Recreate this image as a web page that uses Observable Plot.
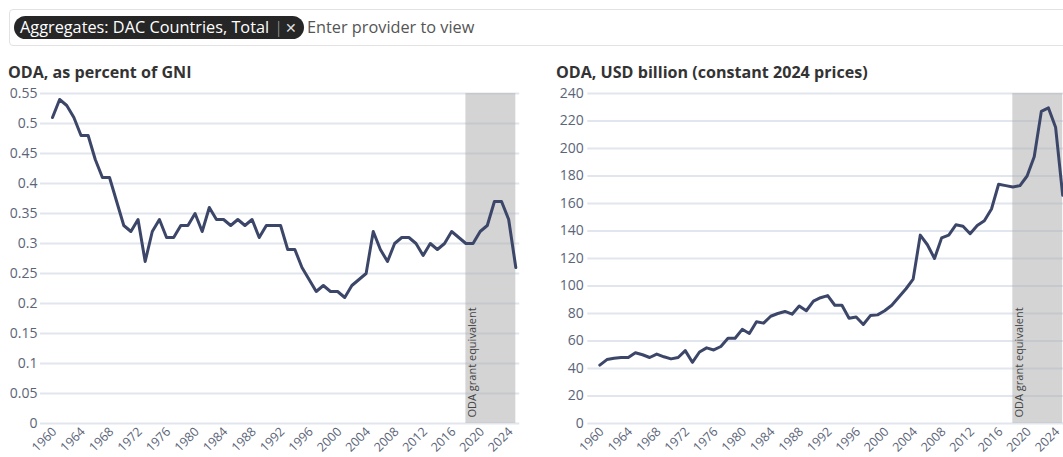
<!DOCTYPE html>
<html>
<head>
<meta charset="utf-8">
<script src="https://cdn.jsdelivr.net/npm/d3@7"></script>
<script src="https://cdn.jsdelivr.net/npm/@observablehq/plot@0.6"></script>
<style>
  html, body { margin: 0; padding: 0; background: #fff; overflow: hidden; width: 1063px; height: 457px; }
  body { font-family: "Open Sans", sans-serif; position: relative; }
  #search { position: absolute; left: 9px; top: 9px; width: 1080px; height: 35px; border: 1.5px solid #e2e2e2; border-radius: 4px; box-sizing: content-box; }
  #chip { position: absolute; left: 14px; top: 16px; height: 23px; line-height: 23px; background: #262626; color: #fff; border-radius: 12px; padding: 0 7px 0 6px; font-size: 16.3px; white-space: nowrap; }
  #chip .sep { color: #aaa; margin: 0 2px 0 5px; font-weight: 300; }
  #chip .x { color: #ddd; font-size: 14px; }
  #placeholder { position: absolute; left: 307px; top: 16px; line-height: 23px; font-size: 16.3px; color: #555; white-space: nowrap; }
  .title { position: absolute; top: 61px; font-size: 16.1px; font-weight: 700; color: #333; white-space: nowrap; }
  .chart { position: absolute; top: 85px; width: 540px; height: 372px; }
  .chart svg { max-width: none !important; }
</style>
</head>
<body>
<div id="search"></div>
<div id="chip">Aggregates: DAC Countries, Total<span class="sep">|</span><span class="x">✕</span></div>
<div id="placeholder">Enter provider to view</div>
<div class="title" style="left:8px">ODA, as percent of GNI</div>
<div class="title" style="left:556px">ODA, USD billion (constant 2024 prices)</div>
<div class="chart" id="left" style="left:0px"></div>
<div class="chart" id="right" style="left:540px"></div>
<script>
const years = [1960,1961,1962,1963,1964,1965,1966,1967,1968,1969,
  1970,1971,1972,1973,1974,1975,1976,1977,1978,1979,
  1980,1981,1982,1983,1984,1985,1986,1987,1988,1989,
  1990,1991,1992,1993,1994,1995,1996,1997,1998,1999,
  2000,2001,2002,2003,2004,2005,2006,2007,2008,2009,
  2010,2011,2012,2013,2014,2015,2016,2017,2018,2019,
  2020,2021,2022,2023,2024,2025];

const odaPctGni = [0.51,0.54,0.53,0.51,0.48,0.48,0.44,0.41,0.41,0.37,
  0.33,0.32,0.34,0.27,0.32,0.34,0.31,0.31,0.33,0.33,
  0.35,0.32,0.36,0.34,0.34,0.33,0.34,0.33,0.34,0.31,
  0.33,0.33,0.33,0.29,0.29,0.26,0.24,0.22,0.23,0.22,
  0.22,0.21,0.23,0.24,0.25,0.32,0.29,0.27,0.30,0.31,
  0.31,0.30,0.28,0.30,0.29,0.30,0.32,0.31,0.30,0.30,
  0.32,0.33,0.37,0.37,0.34,0.26];

const odaUsdBn = [42.5,46.5,47.5,48,48,51.5,50,48,50.5,48.5,
  47,48,53,44.5,52,55,53.5,56,62,62,
  68.5,65.5,74,73,78,80,81.5,79.5,85.5,82,
  89,91.5,93,86,86,76.5,77.5,72,78.5,79,
  82,86,92,98,105,137,130,120,135,137,
  144.5,143.5,138,144,147.5,156,174,173,172,173,
  180,194,227,229.5,215.5,166];

const xTicks = [1960,1964,1968,1972,1976,1980,1984,1988,1992,1996,2000,2004,2008,2012,2016,2020,2024];
const yTicksPct = [0,0.05,0.1,0.15,0.2,0.25,0.3,0.35,0.4,0.45,0.5,0.55];
const yTicksUsd = [0,20,40,60,80,100,120,140,160,180,200,220,240];
const grantPeriod = [{from: 2018, to: 2025}];
const grantLabel = "ODA grant equivalent";

const lineColor = "#3c4669";
const gridColor = "#e1e6ee";
const tickColor = "#5b6478";

function makeChart(values, yTicks, yMax, opts) {
  const data = years.map((y, i) => ({year: y, value: values[i]}));
  const band = grantPeriod.map(d => ({x1: d.from, x2: d.to, y1: 0, y2: yMax}));
  return Plot.plot({
    width: opts.width,
    height: 372,
    marginTop: 8,
    marginBottom: 34,
    marginLeft: opts.marginLeft,
    marginRight: opts.marginRight,
    x: {domain: [1960, 2025], label: null},
    y: {domain: [0, yMax], label: null},
    style: {fontFamily: "Open Sans, sans-serif", fontSize: "14px", color: tickColor, background: "transparent", overflow: "visible"},
    marks: [
      Plot.ruleY(yTicks, {stroke: gridColor, strokeWidth: 2, insetLeft: -12, insetRight: -4}),
      Plot.rect(band, {x1: "x1", x2: "x2", y1: "y1", y2: "y2", fill: "#a9a9a9", fillOpacity: 0.5}),
      Plot.text([grantLabel], {x: grantPeriod[0].from, y: 0, text: d => d, rotate: -90, textAnchor: "start", dx: 6.5, dy: -6, fontSize: 11, fill: "#444"}),
      Plot.line(data, {x: "year", y: "value", stroke: lineColor, strokeWidth: 3, strokeLinejoin: "round", strokeLinecap: "round"}),
      Plot.axisY({ticks: yTicks, tickSize: 0, tickPadding: opts.tickPadding, fontSize: 14, tickFormat: d => String(+d.toFixed(2)), label: null}),
      Plot.axisX({ticks: xTicks, tickSize: 0, tickPadding: 6, dx: 2, tickRotate: -45, fontSize: 12.5, tickFormat: d => String(d), label: null})
    ]
  });
}

document.getElementById("left").append(makeChart(odaPctGni, yTicksPct, 0.55, {width: 540, marginLeft: 52, marginRight: 24.7, tickPadding: 15}));
document.getElementById("right").append(makeChart(odaUsdBn, yTicksUsd, 240, {width: 540, marginLeft: 59.3, marginRight: 17.8, tickPadding: 16}));
</script>
</body>
</html>
